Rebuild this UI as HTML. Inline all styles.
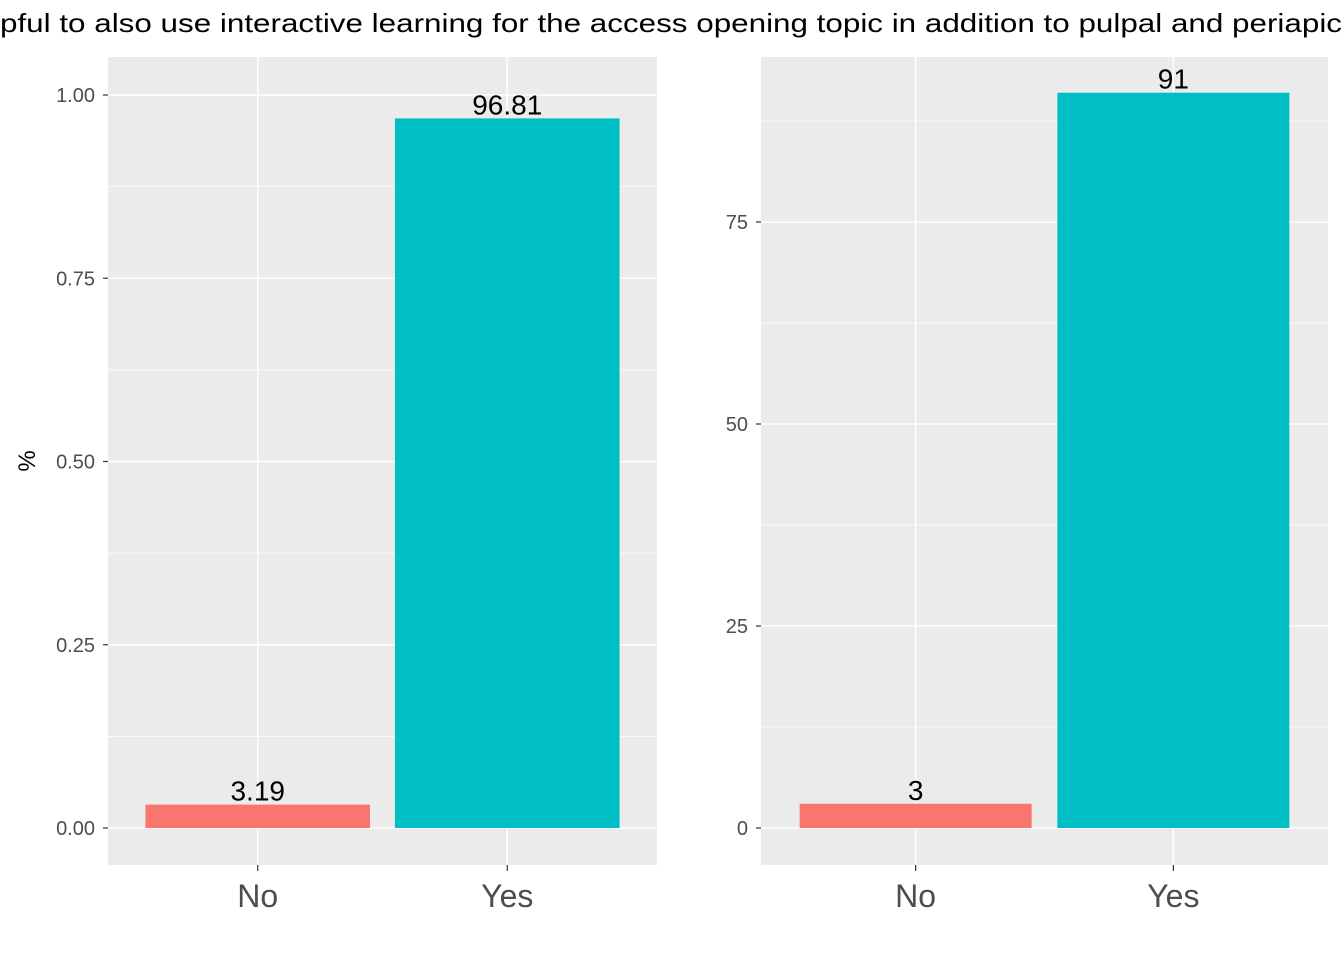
<!DOCTYPE html>
<html><head><meta charset="utf-8">
<style>
body{margin:0;background:#fff;}
svg{display:block;font-family:"Liberation Sans",Arial,sans-serif;}
</style></head>
<body>
<svg id="c" width="1344" height="960" viewBox="0 0 1344 960">
<text x="0" y="32" font-size="26" fill="#000" textLength="1342" lengthAdjust="spacingAndGlyphs">pful to also use interactive learning for the access opening topic in addition to pulpal and periapic</text>
<text transform="translate(35,461) rotate(-90)" text-anchor="middle" font-size="24" fill="#000">%</text>
</svg>
<script>
const categories = ["No", "Yes"];
const pctValues = [0.0319, 0.9681];
const pctLabels = ["3.19", "96.81"];
const countValues = [3, 91];
const countLabels = ["3", "91"];
const leftTicks = [0, 0.25, 0.5, 0.75, 1.0];
const leftTickLabels = ["0.00", "0.25", "0.50", "0.75", "1.00"];
const rightTicks = [0, 25, 50, 75];
const rightTickLabels = ["0", "25", "50", "75"];
const colors = ["#F8766D", "#00BFC4"];

const svg = document.getElementById('c');
const NS = 'http://www.w3.org/2000/svg';
function mk(tag, attrs){const e=document.createElementNS(NS,tag);for(const k in attrs)e.setAttribute(k,attrs[k]);svg.appendChild(e);return e;}

function panel(p){
  const {x0,x1,y0,y1,zeroY,pxPer,vals,labels,ticks,tickLabels,prefix}=p;
  const bg=mk('rect',{x:x0,y:y0,width:x1-x0,height:y1-y0,fill:'#EBEBEB'});
  
  
  const yS=v=>zeroY-v*pxPer;
  const n=categories.length;
  const step=(x1-x0)/(n-1+1.2);
  const xS=i=>x0+step*(0.6+i);
  for(let i=0;i<ticks.length;i++){
    const d=ticks[1]-ticks[0];
    const mv=ticks[i]+d/2;const my=yS(mv);
    if(my>y0){const l=mk('line',{x1:x0,x2:x1,y1:my,y2:my,stroke:'#fff','stroke-width':0.7});
      
      }
  }
  ticks.forEach((t,i)=>{
    const y=yS(t);
    const g=mk('line',{x1:x0,x2:x1,y1:y,y2:y,stroke:'#fff','stroke-width':1.5});
    
    
    const tk=mk('line',{x1:x0-5,x2:x0,y1:y,y2:y,stroke:'#333','stroke-width':1.2});
    
    
    const tl=mk('text',{x:x0-13,y:y+7,'text-anchor':'end','font-size':20,fill:'#4D4D4D'});
    tl.textContent=tickLabels[i];
    
    
  });
  categories.forEach((c,i)=>{
    const x=xS(i);
    const g=mk('line',{x1:x,x2:x,y1:y0,y2:y1,stroke:'#fff','stroke-width':1.5});
    
    
  });
  categories.forEach((c,i)=>{
    const x=xS(i),w=step*0.9,top=yS(vals[i]);
    const b=mk('rect',{x:x-w/2,y:top,width:w,height:zeroY-top,fill:colors[i]});
    
    
    const vl=mk('text',{x:x,y:top-4,'text-anchor':'middle','font-size':28,fill:'#000'});
    vl.textContent=labels[i];
    
    
    const tk=mk('line',{x1:x,x2:x,y1:y1,y2:y1+6,stroke:'#333','stroke-width':1.2});
    
    
    const xl=mk('text',{x:x,y:907,'text-anchor':'middle','font-size':32,fill:'#4D4D4D'});
    xl.textContent=c;
    
    
  });
}
panel({x0:108,x1:657,y0:57,y1:865,zeroY:828,pxPer:733,vals:pctValues,labels:pctLabels,ticks:leftTicks,tickLabels:leftTickLabels,prefix:'percent'});
panel({x0:761,x1:1328,y0:57,y1:865,zeroY:828,pxPer:8.08,vals:countValues,labels:countLabels,ticks:rightTicks,tickLabels:rightTickLabels,prefix:'count'});
</script>
</body></html>
